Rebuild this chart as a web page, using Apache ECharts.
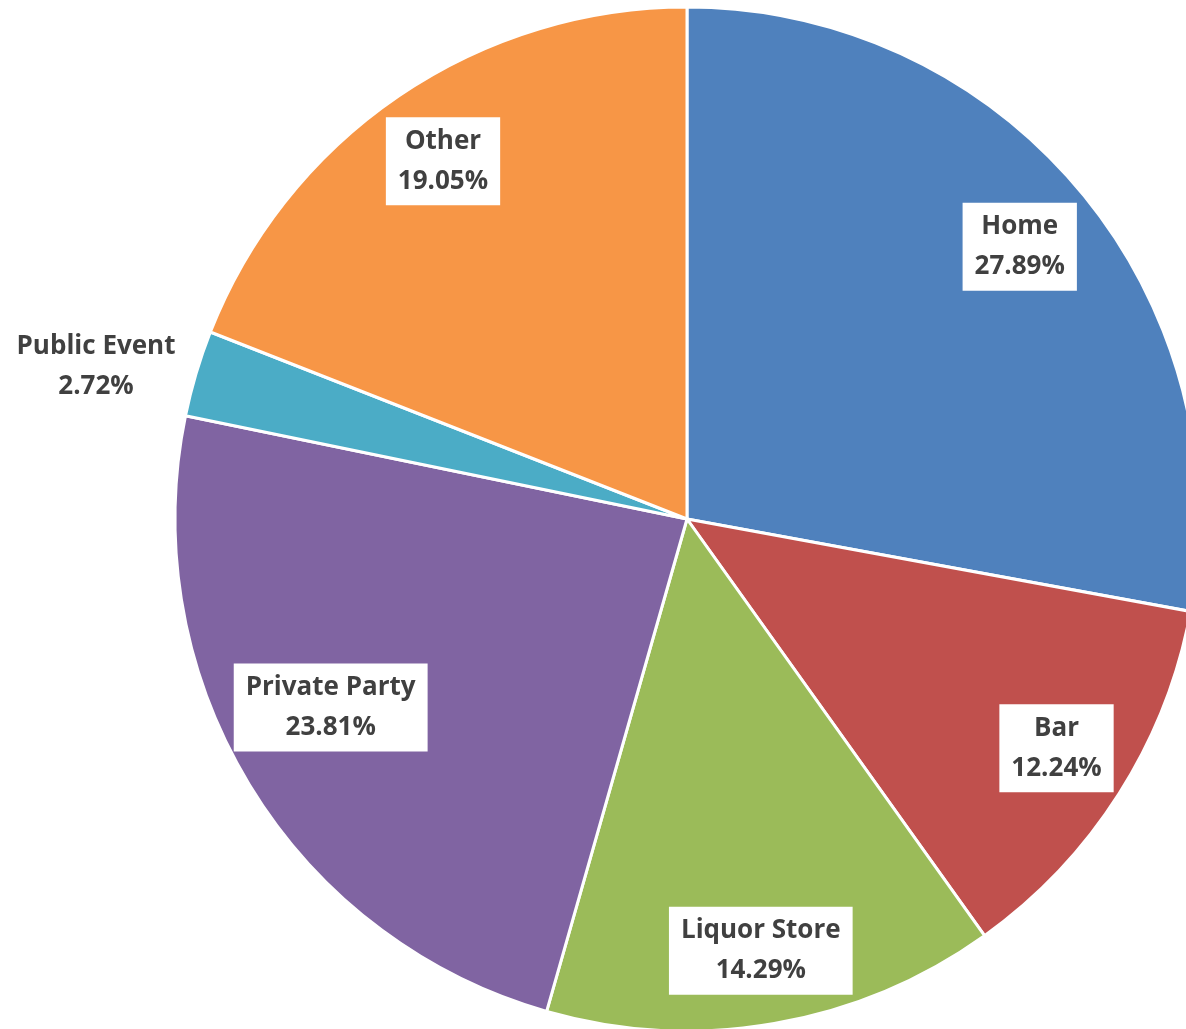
<!DOCTYPE html>
<html>
<head>
<meta charset="utf-8">
<script src="https://cdn.jsdelivr.net/npm/echarts@6/dist/echarts.min.js"></script>
<style>
  html, body { margin: 0; padding: 0; background: #fff; }
  #main { width: 1186px; height: 1029px; }
</style>
</head>
<body>
<div id="main"></div>
<script>
var categories = ['Home', 'Bar', 'Liquor Store', 'Private Party', 'Public Event', 'Other'];
var shares = [27.89, 12.24, 14.29, 23.81, 2.72, 19.05];
var colors = ['#4F81BD', '#C0504D', '#9BBB59', '#8064A2', '#4BACC6', '#F79646'];

var chart = echarts.init(document.getElementById('main'));

var R = 512; // pie radius in px
var center = [687, 519];

// small nudges so labels sit where the original put them
var nudges = {
  'Home': [0, 5],
  'Bar': [4, -3],
  'Liquor Store': [0, 5],
  'Private Party': [14, -36],
  'Public Event': [-4, 22],
  'Other': [0, 0]
};

var pieData = categories.map(function (name, i) {
  return { name: name, value: shares[i], itemStyle: { color: colors[i] } };
});

// label ring: inside labels sit at the middle of the ring (~0.84R)
var labelData = categories.map(function (name, i) {
  return { name: name, value: shares[i], label: { show: name !== 'Public Event', offset: nudges[name] } };
});
// outer ring just for the small slice label
var outerData = categories.map(function (name, i) {
  return { name: name, value: shares[i], label: { show: name === 'Public Event', offset: nudges[name] } };
});

var labelStyle = {
  position: 'inside',
  formatter: function (p) { return p.name + '\n' + p.value.toFixed(2) + '%'; },
  fontFamily: 'Open Sans',
  fontWeight: 'bold',
  fontSize: 26,
  lineHeight: 40,
  color: '#404040'
};

var option = {
  animation: false,
  backgroundColor: '#fff',
  series: [
    {
      type: 'pie',
      center: center,
      radius: [0, R],
      startAngle: 90,
      clockwise: true,
      silent: true,
      data: pieData,
      itemStyle: { borderColor: '#fff', borderWidth: 3 },
      label: { show: false },
      labelLine: { show: false }
    },
    {
      type: 'pie',
      center: center,
      radius: [R * 0.68, R],
      startAngle: 90,
      silent: true,
      data: labelData,
      itemStyle: { color: 'rgba(0,0,0,0)' },
      label: Object.assign({}, labelStyle, {
        backgroundColor: '#fff',
        padding: [4, 12]
      }),
      labelLine: { show: false }
    },
    {
      type: 'pie',
      center: center,
      radius: [R, R * 1.38],
      startAngle: 90,
      silent: true,
      data: outerData,
      itemStyle: { color: 'rgba(0,0,0,0)' },
      label: labelStyle,
      labelLine: { show: false }
    }
  ]
};

chart.setOption(option);
</script>
</body>
</html>
